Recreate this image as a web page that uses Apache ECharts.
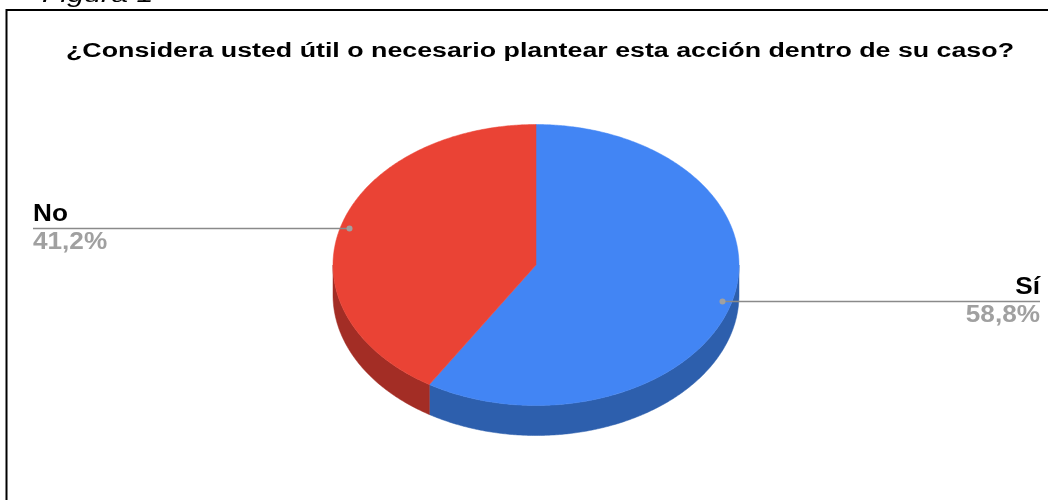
<!DOCTYPE html>
<html>
<head>
<meta charset="utf-8">
<script src="https://cdn.jsdelivr.net/npm/echarts@6/dist/echarts.min.js"></script>
<style>
html,body{margin:0;padding:0;background:#fff;}
#chart{width:1048px;height:500px;}
</style>
</head>
<body>
<div id="chart"></div>
<script>
// ---- data ----
const categories = ['Sí', 'No'];
const values = [58.8, 41.2];
const titleText = '¿Considera usted útil o necesario plantear esta acción dentro de su caso?';
const captionText = 'Figura 1';

// ---- style / layout ----
const topColors = ['#4285F4', '#EA4335'];
const sideColors = ['#2D5FAD', '#A32D25'];
const CX = 536, CY = 265, RX = 203, RY = 140.5, DEPTH = 30;
const LABEL_LEFT = 33, LABEL_RIGHT = 1040;
const LABEL_R = 0.955;
const FONT = 'Liberation Sans, Arial, sans-serif';

const total = values.reduce((a, b) => a + b, 0);
const starts = [];
{ let acc = 0; values.forEach(v => { starts.push(acc / total * 2 * Math.PI); acc += v; }); }
function angles(i) {
  const s = starts[i];
  const e = s + values[i] / total * 2 * Math.PI;
  return [s, e];
}
function pt(t, r, dy) {
  return [CX + RX * r * Math.sin(t), CY - RY * r * Math.cos(t) + (dy || 0)];
}
function arcPts(s, e, r, dy) {
  const pts = [];
  const n = Math.max(2, Math.ceil((e - s) / (Math.PI / 360)));
  for (let k = 0; k <= n; k++) pts.push(pt(s + (e - s) * k / n, r, dy));
  return pts;
}
function fmt(v) { return v.toFixed(1).replace('.', ',') + '%'; }

const data = categories.map((c, i) => ({ name: c, value: values[i] }));

const chart = echarts.init(document.getElementById('chart'), null, { renderer: 'canvas' });
chart.setOption({
  backgroundColor: '#ffffff',
  animation: false,
  graphic: [
    { type: 'polyline', shape: { points: [[6.5, 500], [6.5, 10], [1048, 10]] }, style: { stroke: '#000', lineWidth: 2, fill: null } },
    { type: 'text', x: 42, y: -4, scaleX: 1.38, style: { x: 0, y: 0, text: captionText, textVerticalAlign: 'middle', fontFamily: FONT, fontStyle: 'italic', fontSize: 22, fill: '#000' } },
    { type: 'text', x: 540, y: 51.5, scaleX: 1.339, style: { x: 0, y: 0, text: titleText, textAlign: 'center', textVerticalAlign: 'middle', fontFamily: FONT, fontWeight: 'bold', fontSize: 20, fill: '#000' } }
  ],
  series: [
    {
      type: 'custom', coordinateSystem: 'none', data: data,
      renderItem: function (params) {
        const i = params.dataIndex;
        const [s, e] = angles(i);
        const vs = Math.max(s, Math.PI / 2), ve = Math.min(e, 3 * Math.PI / 2);
        if (ve <= vs) return { type: 'group', children: [] };
        const top = arcPts(vs, ve, 1, 0);
        const bot = arcPts(vs, ve, 1, DEPTH).reverse();
        return { type: 'polygon', shape: { points: top.concat(bot) }, style: { fill: sideColors[i], stroke: sideColors[i], lineWidth: 0.5 } };
      }
    },
    {
      type: 'custom', coordinateSystem: 'none', data: data,
      renderItem: function (params) {
        const i = params.dataIndex;
        const [s, e] = angles(i);
        const pts = [[CX, CY]].concat(arcPts(s, e, 1, 0));
        return { type: 'polygon', shape: { points: pts }, style: { fill: topColors[i], stroke: topColors[i], lineWidth: 0.5 } };
      }
    },
    {
      type: 'custom', coordinateSystem: 'none', data: data,
      renderItem: function (params) {
        const i = params.dataIndex;
        const [s, e] = angles(i);
        const m = (s + e) / 2;
        const d = pt(m, LABEL_R, 0);
        const left = Math.sin(m) < 0;
        const x = left ? LABEL_LEFT : LABEL_RIGHT;
        const align = left ? 'left' : 'right';
        return {
          type: 'group',
          children: [
            { type: 'line', shape: { x1: x, y1: d[1], x2: d[0], y2: d[1] }, style: { stroke: '#8a8a8a', lineWidth: 1.5 } },
            { type: 'circle', shape: { cx: d[0], cy: d[1], r: 3 }, style: { fill: '#a0a0a0' } },
            { type: 'text', x: x, y: d[1] - 14.5, scaleX: 1.09, style: { x: 0, y: 0, text: categories[i], textAlign: align, textVerticalAlign: 'middle', fontFamily: FONT, fontWeight: 'bold', fontSize: 24, fill: '#000' } },
            { type: 'text', x: x, y: d[1] + 14, scaleX: 1.09, style: { x: 0, y: 0, text: fmt(values[i]), textAlign: align, textVerticalAlign: 'middle', fontFamily: FONT, fontWeight: 'bold', fontSize: 24, fill: '#a0a0a0' } }
          ]
        };
      }
    }
  ]
});
</script>
</body>
</html>
